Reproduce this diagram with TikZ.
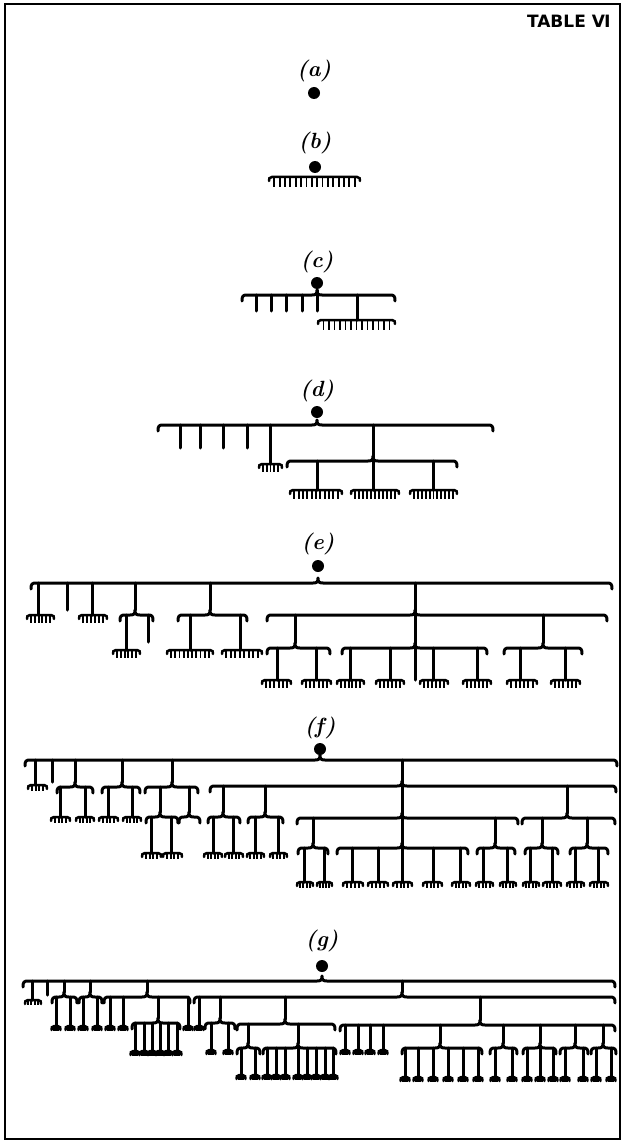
\documentclass[tikz,border=0pt]{standalone}
\usepackage{fontspec}
\newfontfamily\titlefont{DejaVu Sans}
\usetikzlibrary{positioning}

\newcommand{\Brace}[4]{%
  \draw[bar] (#1,#4+6) .. controls (#1,#4+1) and (#1+1,#4) .. (#1+5,#4)
    -- (#2-5,#4) .. controls (#2-1,#4) and (#2,#4-1) .. (#2,#4-5)
    .. controls (#2,#4-1) and (#2+1,#4) .. (#2+5,#4)
    -- (#3-5,#4) .. controls (#3-1,#4) and (#3,#4+1) .. (#3,#4+6);}
\newcommand{\Stem}[3]{\draw[bar] (#1,#2) -- (#1,#3);}
\newcommand{\Rake}[5]{%
  \draw[rakebar] (#1,#3+4) .. controls (#1,#3+1) .. (#1+3,#3) -- (#2-3,#3) .. controls (#2,#3+1) .. (#2,#3+4);
  \foreach \k in {1,...,#4} {\draw[tooth] ({(#1)+((#2)-(#1))*\k/(#4+1)},#3) -- ++(0,#5);}}
\newcommand{\Blob}[2]{\Rake{#1-4.5}{#1+4.5}{#2}{3}{5}}

\begin{document}
\begin{tikzpicture}[x=1pt, y=-1pt,
    bar/.style = {line width=3pt, line cap=round, line join=round},
    rakebar/.style = {line width=2.5pt, line cap=round},
    tooth/.style = {line width=1.9pt},
    dot/.style = {circle, fill, inner sep=0pt, minimum size=12pt},
    lbl/.style = {font=\fontsize{22}{26}\selectfont\bfseries\itshape}
]
    \useasboundingbox (0,0) rectangle (629,1142);
    \draw[line width=1.8pt] (5,4) rectangle (620,1139);
    \node[font=\titlefont\bfseries\fontsize{17}{20}\selectfont, anchor=east] (title) at (614,21) {TABLE Ⅵ};

    \node[dot] (a) at (314,93) {};
    \node[lbl, above=1pt of a] (la) {(a)};

    \node[dot] (b) at (315,167) {};
    \node[lbl, above=3pt of b] (lb) {(b)};
    \Rake{269}{360}{177}{16}{10}

    \node[dot] (c) at (317,283) {};
    \node[lbl, above=0pt of c] (lc) {(c)};
    \Brace{242}{317}{395}{295}
    \foreach \x in {256,271,286,302} {\Stem{\x}{295}{311}}
    \Stem{317}{290}{311}
    \Stem{357}{295}{320}
    \Rake{318}{395}{320}{13}{10}

    \node[dot] (d) at (317,412) {};
    \node[lbl, above=0pt of d] (ld) {(d)};
    \Brace{158}{317}{493}{425}
    \foreach \x in {180,200,223,247} {\Stem{\x}{425}{448}}
    \Stem{270}{425}{464}
    \Rake{259}{282}{464}{5}{8}
    \Stem{373}{425}{490}
    \Brace{287}{373}{457}{461}
    \foreach \x/\lo/\hi in {317/290/342, 373/351/399, 433/410/457} {\Stem{\x}{461}{490} \Rake{\lo}{\hi}{490}{11}{9}}

    \node[dot] (e) at (318,566) {};
    \node[lbl, above=1pt of e] (le) {(e)};
    \Brace{31}{318}{612}{583}
    \Stem{38}{583}{615} \Rake{27}{54}{615}{6}{8}
    \Stem{67}{583}{610}
    \Stem{92}{583}{615} \Rake{79}{107}{615}{6}{8}
    \Stem{135}{583}{610} \Brace{120}{135}{153}{615}
    \Stem{126}{615}{650} \Rake{113}{140}{650}{6}{8}
    \Stem{148}{615}{642}
    \Stem{210}{583}{610} \Brace{178}{210}{247}{615}
    \Stem{190}{615}{650} \Rake{167}{213}{650}{10}{8}
    \Stem{240}{615}{650} \Rake{222}{262}{650}{8}{8}
    \Stem{415}{583}{680} \Brace{267}{415}{607}{615}
    \Stem{295}{615}{643} \Brace{267}{295}{330}{648}
    \Brace{342}{415}{487}{648}
    \Stem{543}{615}{643} \Brace{504}{543}{582}{648}
    \foreach \x/\lo/\hi in {277/262/291, 316/302/331, 350/337/364, 390/376/404, 433/420/448, 477/463/491, 520/507/537, 565/551/580} {\Stem{\x}{648}{680} \Rake{\lo}{\hi}{680}{6}{8}}

    \node[dot] (f) at (320,749) {};
    \node[lbl, above=0pt of f] (lf) {(f)};
    \Brace{25}{320}{617}{760}
    \Stem{35}{760}{785} \Rake{28}{47}{785}{4}{6}
    \Stem{52}{760}{782}
    \Stem{75}{760}{782} \Brace{57}{75}{93}{787}
    \Stem{122}{760}{782} \Brace{102}{122}{140}{787}
    \foreach \x/\lo/\hi in {60/51/70, 85/76/94, 108/99/118, 132/123/141} {\Stem{\x}{787}{817} \Rake{\lo}{\hi}{817}{4}{6}}
    \Stem{172}{760}{782} \Brace{145}{172}{198}{787}
    \Stem{160}{787}{812} \Brace{146}{160}{178}{817}
    \foreach \x/\lo/\hi in {151/142/161, 171/163/182} {\Stem{\x}{817}{853} \Rake{\lo}{\hi}{853}{4}{6}}
    \Stem{189}{787}{812} \Brace{179}{189}{200}{817}
    \Stem{402}{760}{882} \Brace{210}{402}{616}{786}
    \Stem{223}{786}{812} \Brace{208}{223}{240}{817}
    \Stem{265}{786}{812} \Brace{248}{265}{283}{817}
    \foreach \x/\lo/\hi in {213/204/222, 233/225/243, 255/247/264, 278/270/287} {\Stem{\x}{817}{853} \Rake{\lo}{\hi}{853}{4}{6}}
    \Brace{297}{402}{518}{818}
    \Stem{313}{818}{843} \Brace{298}{313}{328}{848}
    \Brace{337}{402}{468}{848}
    \Stem{495}{818}{843} \Brace{477}{495}{515}{848}
    \Stem{567}{786}{813} \Brace{522}{567}{615}{818}
    \Stem{542}{818}{843} \Brace{525}{542}{558}{848}
    \Stem{587}{818}{843} \Brace{570}{587}{608}{848}
    \foreach \x/\lo/\hi in {304/297/313, 324/317/332, 352/343/363, 378/368/388, 402/393/412, 433/423/442, 460/452/470, 483/476/493, 507/500/516, 530/523/539, 552/543/561, 575/567/584, 598/590/608} {\Stem{\x}{848}{882} \Rake{\lo}{\hi}{882}{4}{6}}

    \node[dot] (g) at (322,966) {};
    \node[lbl, above=4pt of g] (lg) {(g)};
    \Brace{23}{322}{615}{981}
    \Stem{32}{981}{1000} \Rake{25}{41}{1000}{4}{5}
    \Stem{47}{981}{995}
    \Stem{64}{981}{992} \Brace{52}{64}{77}{997}
    \Stem{90}{981}{992} \Brace{79}{90}{102}{997}
    \Stem{147}{981}{992} \Brace{104}{147}{190}{997}
    \foreach \x in {56,70,83,97,110,123,188} {\Stem{\x}{997}{1026} \Blob{\x}{1026}}
    \Stem{158}{997}{1018} \Brace{132}{158}{180}{1023}
    \foreach \x in {135,144,152,160,168,177} {\Stem{\x}{1023}{1051} \Blob{\x}{1051}}
    \Stem{402}{981}{992} \Brace{194}{402}{615}{997}
    \Stem{199}{997}{1026} \Blob{199}{1026}
    \Stem{220}{997}{1018} \Brace{205}{220}{235}{1023}
    \foreach \x in {211,228} {\Stem{\x}{1023}{1050} \Blob{\x}{1050}}
    \Stem{285}{997}{1019} \Brace{237}{285}{335}{1024}
    \Stem{248}{1024}{1043} \Brace{237}{248}{260}{1048}
    \Stem{298}{1024}{1043} \Brace{263}{298}{336}{1048}
    \foreach \x in {241,255,267,276,285,298,307,316,325,333} {\Stem{\x}{1048}{1075} \Blob{\x}{1075}}
    \Stem{480}{997}{1020} \Brace{340}{480}{615}{1025}
    \foreach \x in {345,358,370,383} {\Stem{\x}{1025}{1050} \Blob{\x}{1050}}
    \Stem{440}{1025}{1043} \Brace{402}{440}{482}{1048}
    \Stem{503}{1025}{1043} \Brace{490}{503}{517}{1048}
    \Stem{540}{1025}{1043} \Brace{523}{540}{556}{1048}
    \Stem{575}{1025}{1043} \Brace{560}{575}{588}{1048}
    \Stem{603}{1025}{1043} \Brace{591}{603}{616}{1048}
    \foreach \x in {405,418,433,448,463,478,495,512,527,540,553,565,583,596,611} {\Stem{\x}{1048}{1077} \Blob{\x}{1077}}
\end{tikzpicture}
\end{document}
